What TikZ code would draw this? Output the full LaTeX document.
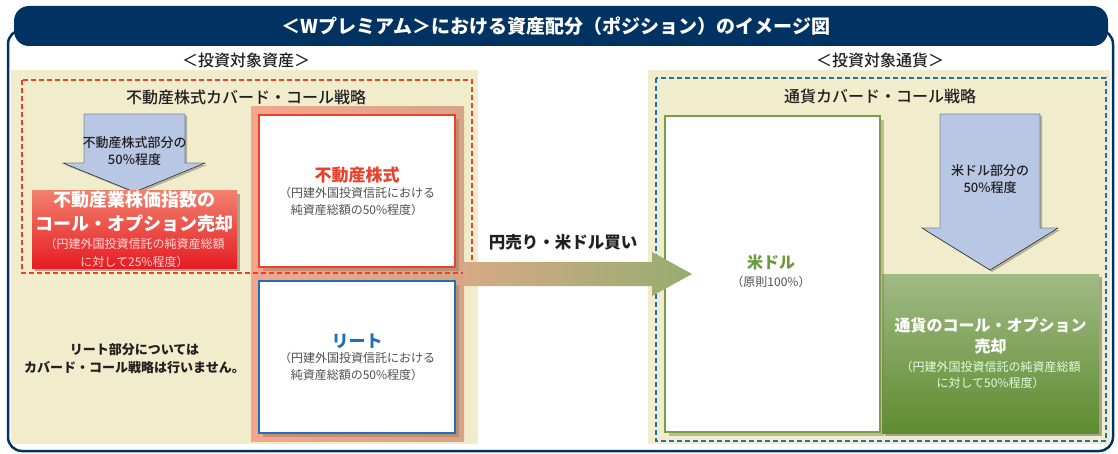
\documentclass[tikz,border=0pt]{standalone}
\usepackage{fontspec}
\setmainfont{Noto Sans CJK JP}
\newfontfamily\medfont{Noto Sans CJK JP Medium}
\usetikzlibrary{shadows}

\definecolor{navy}{RGB}{0,50,98}
\definecolor{beige}{RGB}{241,236,203}
\definecolor{redline}{RGB}{232,65,44}
\definecolor{blueline}{RGB}{31,112,188}
\definecolor{greenline}{RGB}{118,160,70}
\definecolor{greentext}{RGB}{108,152,62}
\definecolor{arrowblue}{RGB}{184,199,228}
\definecolor{salmonpanel}{RGB}{244,166,140}
\definecolor{tanshade}{RGB}{214,165,133}
\definecolor{redtop}{RGB}{241,128,108}
\definecolor{redbot}{RGB}{230,28,35}
\definecolor{greentop}{RGB}{160,186,133}
\definecolor{greenmid}{RGB}{106,152,64}
\definecolor{greenbot}{RGB}{94,140,48}
\definecolor{graytext}{RGB}{80,80,80}
\definecolor{darktext}{RGB}{35,31,32}
\definecolor{arrowtan}{RGB}{216,169,133}
\definecolor{arrowgreen}{RGB}{150,173,112}

% line fonts
\newcommand{\callfont}[1]{\fontsize{#1}{#1}\selectfont\bfseries\color{white}}
\newcommand{\callnote}{\fontsize{12}{12}\selectfont\color{white!85!red}}
\newcommand{\boxname}[1]{\fontsize{17}{17}\selectfont\bfseries\color{#1}}
\newcommand{\boxnote}{\fontsize{12}{12}\selectfont\color{graytext}}

\tikzset{
  headtext/.style={font=\fontsize{16}{19}\selectfont\medfont},
  notetext/.style={font=\fontsize{13}{17}\selectfont\medfont},
  whitebox/.style={draw, line width=1.6pt, fill=white, minimum width=196pt,
    drop shadow={shadow xshift=4pt, shadow yshift=-4pt, fill=tanshade!70!black, opacity=0.45}},
  colorbox/.style={drop shadow={shadow xshift=3pt, shadow yshift=-3pt, fill=black, opacity=0.3}},
  dashbox/.style={dash pattern=on 5pt off 3pt, line width=1.5pt},
  blockarrow/.style={fill=arrowblue, drop shadow={shadow xshift=2pt, shadow yshift=-2pt, fill=black, opacity=0.25}},
}

\begin{document}
\begin{tikzpicture}[x=1pt, y=-1pt, every node/.style={inner sep=0pt, align=center, text=darktext}]
  \useasboundingbox (0,0) rectangle (1118,454);

  % frame and title
  \draw[navy, line width=2.5pt, rounded corners=14pt] (8,30) rectangle (1113,451);
  \fill[navy, rounded corners=15pt] (14,6) rectangle (1108,46);
  \node[font=\fontsize{19}{22}\selectfont\bfseries, text=white] (title) at (556,26)
    {＜Wプレミアム＞における資産配分（ポジション）のイメージ図};

  % panels
  \fill[beige] (11,70) rectangle (478,444);
  \fill[beige] (648,70) rectangle (1110,444);
  \node[headtext] (assethead) at (246,60) {＜投資対象資産＞};
  \node[headtext] (currhead) at (880,60) {＜投資対象通貨＞};

  % left side: real estate
  \path[left color=salmonpanel, right color=tanshade] (251,107) rectangle (464,441);
  \node[headtext] (stockstrat) at (246,97) {不動産株式カバード・コール戦略};

  \draw[blockarrow] (84,114) -- (185,114) -- (185,163) -- (205,163) -- (134.5,192)
    -- (63,163) -- (84,163) -- cycle;
  \node[notetext] (stockpart) at (134.5,151) {不動産株式部分の\\50\%程度};

  \node[colorbox, top color=redtop, middle color=redbot, bottom color=redbot,
    minimum width=205pt, minimum height=77pt] (stockcall) at (134.5,229.5)
    {\callfont{18}不動産業株価指数の\\[5pt]
     \callfont{18}コール・オプション売却\\[5pt]
     \callnote（円建外国投資信託の純資産総額\\[6pt]
     \callnote に対して25\%程度）};

  \node[whitebox, draw=redline, minimum height=152pt] (stock) at (357,191)
    {\boxname{redline}不動産株式\\[3pt]
     \boxnote（円建外国投資信託における\\[5pt]
     \boxnote 純資産総額の50\%程度）};
  \node[whitebox, draw=blueline, minimum height=152pt] (reit) at (357,357)
    {\boxname{blueline}リート\\[3pt]
     \boxnote（円建外国投資信託における\\[5pt]
     \boxnote 純資産総額の50\%程度）};
  \draw[redline, dashbox] (22,80) rectangle (472,273);

  \node[notetext, font=\fontsize{13}{18}\selectfont\bfseries] (reitnote) at (134.5,359)
    {リート部分については\\カバード・コール戦略は行いません。};

  % right side: currency
  \node[headtext] (currstrat) at (880,96) {通貨カバード・コール戦略};
  \draw[blockarrow] (940,114) -- (1040,114) -- (1040,228) -- (1058,228) -- (990,270)
    -- (922,228) -- (940,228) -- cycle;
  \node[notetext] (usdpart) at (990,179) {米ドル部分の\\50\%程度};

  \node[colorbox, top color=greentop, middle color=greenmid, bottom color=greenbot,
    minimum width=217pt, minimum height=159pt] (currcall) at (990.5,353.5)
    {\callfont{16}通貨のコール・オプション\\[5pt]
     \callfont{16}売却\\[7pt]
     \callnote\color{white!88!green}（円建外国投資信託の純資産総額\\[4pt]
     \callnote\color{white!88!green}に対して50\%程度）};

  \node[whitebox, draw=greenline, minimum width=215pt, minimum height=316pt] (usd) at (772.5,274) {};
  \node[font=\fontsize{16}{20}\selectfont\bfseries, text=greentext] (usdname) at (771,262) {米ドル};
  \node[font=\fontsize{12}{16}\selectfont, text=graytext] (usdshare) at (771,282) {（原則100\%）};
  \draw[blueline, dashbox] (656,78) rectangle (1106,441);

  % exchange arrow
  \path[left color=arrowtan, right color=arrowgreen] (463,262) -- (652,262) -- (652,252)
    -- (692,274) -- (652,296) -- (652,286) -- (463,286) -- cycle;
  \node[font=\fontsize{16.5}{20}\selectfont\bfseries] (fx) at (563,242) {円売り・米ドル買い};
\end{tikzpicture}
\end{document}
